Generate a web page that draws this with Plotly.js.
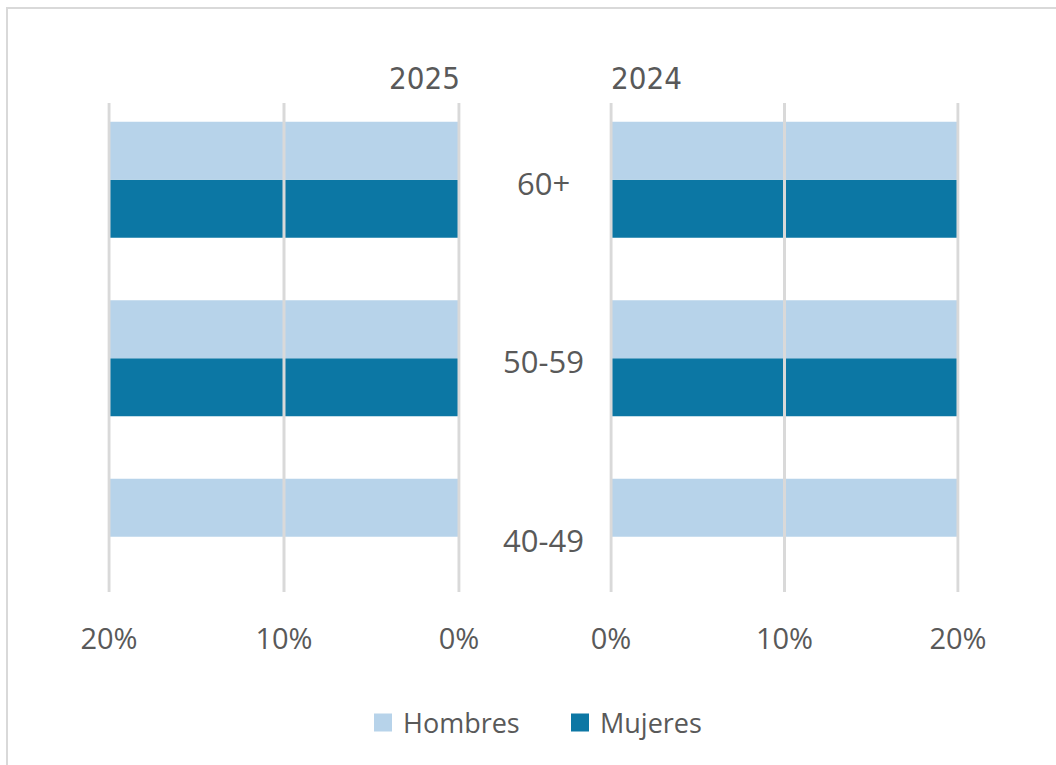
<!DOCTYPE html>
<html>
<head>
<meta charset="utf-8">
<script src="https://cdn.plot.ly/plotly-3.0.1.min.js"></script>
<style>html,body{margin:0;padding:0;background:#fff;}#chart{width:1056px;height:765px;}</style>
</head>
<body>
<div id="chart"></div>
<script>
const categories = ['40-49', '50-59', '60+'];
const hombres2025 = [20, 20, 20];
const mujeres2025 = [0, 20, 20];
const hombres2024 = [20, 20, 20];
const mujeres2024 = [0, 20, 20];
const panelTitles = ['2025', '2024'];
const seriesNames = ['Hombres', 'Mujeres'];
const tickVals = [0, 10, 20];
const tickText = ['0%', '10%', '20%'];

const cHombres = '#b7d3ea';
const cMujeres = '#0c77a4';
const txt = '#595959';
const grid = '#d9d9d9';
const W = 1056, H = 765;
const px = v => v / W, py = v => 1 - v / H;
const FONT = '"Open Sans", "Noto Sans", sans-serif';

const traces = [
  {type:'bar', orientation:'h', name:seriesNames[1], y:categories, x:mujeres2025, xaxis:'x', yaxis:'y',
   marker:{color:cMujeres}, showlegend:false},
  {type:'bar', orientation:'h', name:seriesNames[0], y:categories, x:hombres2025, xaxis:'x', yaxis:'y',
   marker:{color:cHombres}, showlegend:false},
  {type:'bar', orientation:'h', name:seriesNames[1], y:categories, x:mujeres2024, xaxis:'x2', yaxis:'y',
   marker:{color:cMujeres}, showlegend:false},
  {type:'bar', orientation:'h', name:seriesNames[0], y:categories, x:hombres2024, xaxis:'x2', yaxis:'y',
   marker:{color:cHombres}, showlegend:false},
  // legend entries (larger square swatches)
  {type:'scatter', mode:'markers', name:seriesNames[0], x:[null], y:[null], xaxis:'x', yaxis:'y',
   marker:{symbol:'square', size:16, color:cHombres, line:{color:cHombres, width:2}}, legendrank:1},
  {type:'scatter', mode:'markers', name:seriesNames[1], x:[null], y:[null], xaxis:'x', yaxis:'y',
   marker:{symbol:'square', size:16, color:cMujeres, line:{color:cMujeres, width:2}}, legendrank:2}
];

const xCommon = {
  showgrid:false, zeroline:false, showline:false,
  tickvals:tickVals, ticktext:tickText, ticks:'outside', ticklen:21, tickcolor:'rgba(0,0,0,0)',
  tickfont:{family:FONT, size:29, color:txt}, fixedrange:true
};

const gridShapes = [];
['x', 'x2'].forEach(ax => tickVals.forEach(v => gridShapes.push(
  {type:'line', xref:ax, yref:'paper', x0:v, x1:v, y0:py(592), y1:py(103),
   line:{color:grid, width:3}, layer:'above'})));

const layout = {
  width:W, height:H,
  margin:{l:0, r:0, t:0, b:0},
  paper_bgcolor:'#fff', plot_bgcolor:'rgba(0,0,0,0)',
  barmode:'group', bargap:0.35, bargroupgap:0,
  font:{family:FONT, color:txt},
  xaxis:Object.assign({}, xCommon, {domain:[px(107.25), px(460.75)], range:[20.1, -0.1], anchor:'y'}),
  xaxis2:Object.assign({}, xCommon, {domain:[px(609.3), px(959.7)], range:[-0.1, 20.1], anchor:'y'}),
  yaxis:{domain:[py(592), py(103)], type:'category', categoryarray:categories, range:[-0.31, 2.43],
         showticklabels:false, showgrid:false, zeroline:false, showline:false, fixedrange:true},
  showlegend:true,
  legend:{orientation:'h', x:px(363), xanchor:'left', y:py(723), yanchor:'middle', itemsizing:'trace',
          font:{family:FONT, size:27, color:txt}, itemwidth:30, entrywidth:152, tracegroupgap:0},
  annotations:[
    {text:panelTitles[0], xref:'paper', yref:'paper', x:px(462), y:py(78), xanchor:'right', yanchor:'middle',
     showarrow:false, font:{family:'"Liberation Sans Narrow", "DejaVu Sans Condensed", sans-serif', size:31, color:txt}},
    {text:panelTitles[1], xref:'paper', yref:'paper', x:px(609), y:py(78), xanchor:'left', yanchor:'middle',
     showarrow:false, font:{family:'"Liberation Sans Narrow", "DejaVu Sans Condensed", sans-serif', size:31, color:txt}}
  ].concat(categories.map(c => ({
     text:c, xref:'paper', yref:'y', x:px(543), y:c, xanchor:'center', yanchor:'middle', yshift:-3,
     showarrow:false, font:{family:FONT, size:31, color:txt}}))),
  shapes:[
    {type:'rect', xref:'paper', yref:'paper', x0:px(7), x1:1.05, y0:-0.05, y1:py(8),
     line:{color:grid, width:2}, fillcolor:'rgba(0,0,0,0)', layer:'below'}
  ].concat(gridShapes)
};

Plotly.newPlot('chart', traces, layout, {displayModeBar:false, staticPlot:true});
</script>
</body>
</html>
